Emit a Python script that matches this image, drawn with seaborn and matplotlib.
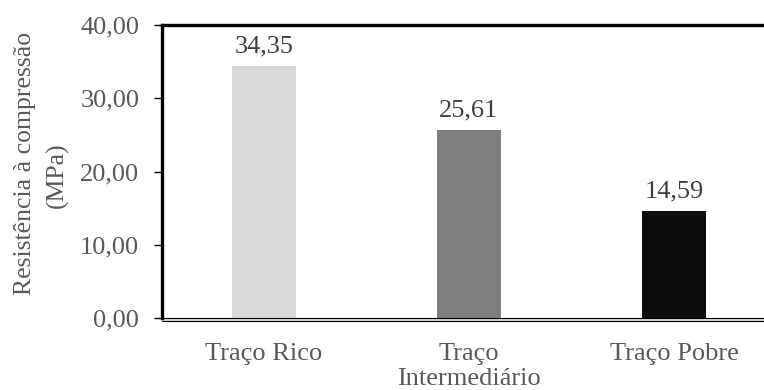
import matplotlib
matplotlib.use("Agg")
import matplotlib.pyplot as plt
import seaborn as sns
import pandas as pd
from matplotlib.lines import Line2D

categories = ["Traço Rico", "Traço\nIntermediário", "Traço Pobre"]
values = [34.35, 25.61, 14.59]
bar_colors = ["#d9d9d9", "#7f7f7f", "#0d0d0d"]
y_ticks = [0, 10, 20, 30, 40]
y_label_lines = ["Resistência à compressão", "(MPa)"]

sns.set_style("white")
plt.rcParams["font.family"] = ["Liberation Serif", "DejaVu Serif"]

df = pd.DataFrame({"traco": categories, "resistencia": values})

FS = 19
text_gray = "#595959"

fig = plt.figure(figsize=(7.64, 3.90), dpi=100)
ax = fig.add_axes([161.5 / 764, 72 / 390, 615 / 764, 293 / 390])

sns.barplot(data=df, x="traco", y="resistencia", hue="traco",
            palette=bar_colors, width=0.317, legend=False, ax=ax,
            saturation=1, edgecolor="none")

ax.set_xlim(-0.5, 2.5)
ax.set_ylim(0, 40)
ax.set_yticks(y_ticks)
ax.set_yticklabels([f"{t:.2f}".replace(".", ",") for t in y_ticks])

ax.tick_params(axis="y", direction="out", length=5.5, width=1, color="black",
               labelsize=FS, labelcolor=text_gray, pad=10.5, left=True)
ax.tick_params(axis="x", length=0, labelsize=FS, labelcolor=text_gray, pad=18)
for lbl in ax.get_xticklabels():
    lbl.set_linespacing(1.2)
ax.set_xlabel("")
ax.set_ylabel("")

# two-line y axis title
fig.text(25 / 764, 1 - 163 / 390, y_label_lines[0], rotation=90,
         ha="center", va="center", fontsize=18.5, color=text_gray)
fig.text(57.5 / 764, 1 - 175 / 390, y_label_lines[1], rotation=90,
         ha="center", va="center", fontsize=18.5, color=text_gray)

for i, v in enumerate(values):
    ax.annotate(f"{v:.2f}".replace(".", ","), (i, v), xytext=(0, 6.5),
                textcoords="offset points", ha="center", va="bottom",
                fontsize=FS, color="#404040")

for side in ["left", "top"]:
    ax.spines[side].set_visible(True)
    ax.spines[side].set_color("black")
    ax.spines[side].set_linewidth(2.4)
ax.spines["right"].set_visible(False)
ax.spines["bottom"].set_color("black")
ax.spines["bottom"].set_linewidth(0.8)

# double rule under the baseline
off = 3.0 / 293
ax.add_line(Line2D([0, 1], [-off / 2, -off / 2], transform=ax.transAxes,
                   color="#d9d9d9", lw=1.6, clip_on=False))
ax.add_line(Line2D([0, 1], [-off, -off], transform=ax.transAxes,
                   color="black", lw=0.8, clip_on=False))

fig.savefig("out.png", dpi=100)
